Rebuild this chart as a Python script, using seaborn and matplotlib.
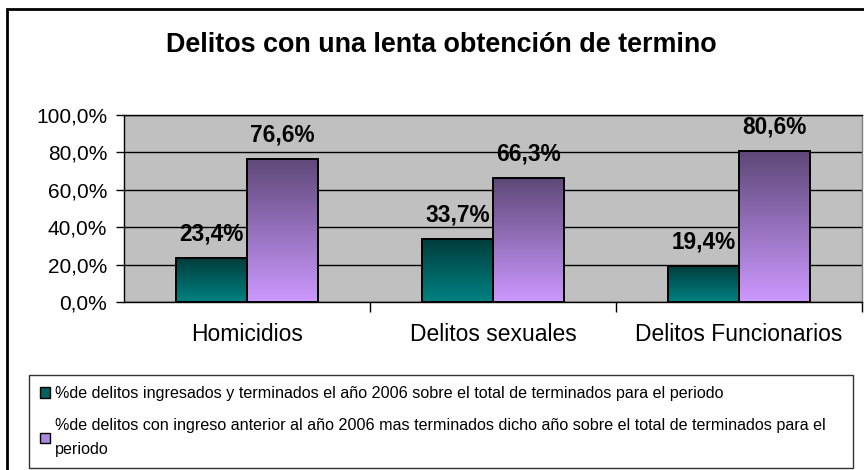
import numpy as np
import pandas as pd
import matplotlib
matplotlib.use("Agg")
import matplotlib.pyplot as plt
from matplotlib.colors import LinearSegmentedColormap
from matplotlib.patches import Patch, Rectangle
import seaborn as sns

# ---- data ----
categories = ["Homicidios", "Delitos sexuales", "Delitos Funcionarios"]
serie_2006 = [23.4, 33.7, 19.4]
serie_anterior = [76.6, 66.3, 80.6]
series_labels = [
    "%de delitos ingresados y terminados el año 2006 sobre el total de terminados para el periodo",
    "%de delitos con ingreso anterior al año 2006 mas terminados dicho año sobre el total de terminados para el\nperiodo",
]
yticks = [0, 20, 40, 60, 80, 100]
title = "Delitos con una lenta obtención de termino"

# gradient colours (top, bottom)
grad_colors = [("#003c3c", "#008282"), ("#5e4878", "#cc99ff")]
base_colors = ["#006666", "#9977cc"]
legend_colors = ["#006060", "#aa88dd"]

df = pd.DataFrame({
    "categoria": categories * 2,
    "valor": serie_2006 + serie_anterior,
    "serie": [series_labels[0]] * 3 + [series_labels[1]] * 3,
})

sns.set_theme(style="white")
plt.rcParams["font.family"] = ["Liberation Sans", "DejaVu Sans"]
for k in ["text.color", "axes.labelcolor", "xtick.color", "ytick.color"]:
    plt.rcParams[k] = "black"

W, H = 864, 470
fig = plt.figure(figsize=(W / 100, H / 100), dpi=100)
fig.patch.set_facecolor("white")

ax = fig.add_axes([124 / W, 1 - 302 / H, (862 - 124) / W, (302 - 115) / H])
ax.set_facecolor("#c0c0c0")

sns.barplot(data=df, x="categoria", y="valor", hue="serie", order=categories,
            hue_order=series_labels, palette=base_colors, saturation=1,
            width=0.577, edgecolor="black", linewidth=1.4, ax=ax, legend=False,
            zorder=3)

# gradient fills
for cont, (ctop, cbot) in zip(ax.containers, grad_colors):
    cmap = LinearSegmentedColormap.from_list("g", [cbot, ctop])
    grad = np.linspace(0, 1, 256).reshape(-1, 1)
    for bar in cont:
        x, y0 = bar.get_x(), bar.get_y()
        w, h = bar.get_width(), bar.get_height()
        ax.imshow(grad, cmap=cmap, origin="lower", aspect="auto",
                  extent=[x, x + w, y0, y0 + h], zorder=2.5,
                  interpolation="bilinear")
        bar.set_facecolor("none")

ax.set_xlim(-0.5, 2.5)
ax.set_ylim(0, 100)

# value labels
for cont, vals in zip(ax.containers, [serie_2006, serie_anterior]):
    ax.bar_label(cont, labels=[f"{v:.1f}%".replace(".", ",") for v in vals],
                 padding=9, fontsize=16.3, fontweight="bold", color="black")

# gridlines
ax.set_yticks(yticks)
ax.set_yticklabels([f"{v:.1f}%".replace(".", ",") for v in yticks], fontsize=15)
ax.yaxis.grid(True, color="black", linewidth=1.0, zorder=1)
ax.set_axisbelow(True)

# x ticks at boundaries, labels at centers
ax.set_xticks([0.5, 1.5, 2.5])
ax.set_xticklabels([])
ax.set_xticks([0, 1, 2], minor=True)
ax.set_xticklabels(categories, minor=True, fontsize=16.5)
ax.tick_params(axis="x", which="major", direction="out", length=7, width=1,
               color="black", bottom=True)
ax.tick_params(axis="x", which="minor", length=0, pad=15)
ax.tick_params(axis="y", direction="out", length=6, width=1, color="black",
               left=True, pad=6)
ax.set_xlabel("")
ax.set_ylabel("")

for side in ["left", "bottom", "top"]:
    ax.spines[side].set_color("black")
    ax.spines[side].set_linewidth(1.0)
ax.spines["right"].set_color("#808080")
ax.spines["right"].set_linewidth(1.0)

# title
fig.text(441 / W, 1 - 45 / H, title, ha="center", va="center",
         fontsize=19.4, fontweight="bold")

# legend
handles = [Patch(facecolor=c, edgecolor="black", linewidth=1.0) for c in legend_colors]
leg = fig.legend(handles, series_labels, loc="upper left",
                 bbox_to_anchor=(29 / W, 1 - 468 / H, (853 - 29) / W, (468 - 375) / H),
                 mode="expand", fontsize=11.6, frameon=True, fancybox=False,
                 edgecolor="black", borderaxespad=0, handlelength=0.6,
                 handleheight=0.6, handletextpad=0.3, labelspacing=1.05,
                 borderpad=0.7)
for t in leg.get_texts():
    t.set_linespacing(1.7)
leg.get_frame().set_linewidth(1.0)

# outer frame (left and top visible)
fig.add_artist(Rectangle((7 / W, -0.05), 1.2, 1 - 9 / H + 0.05,
                         transform=fig.transFigure, fill=False,
                         edgecolor="black", linewidth=2.0))

fig.savefig("out.png", dpi=100)
